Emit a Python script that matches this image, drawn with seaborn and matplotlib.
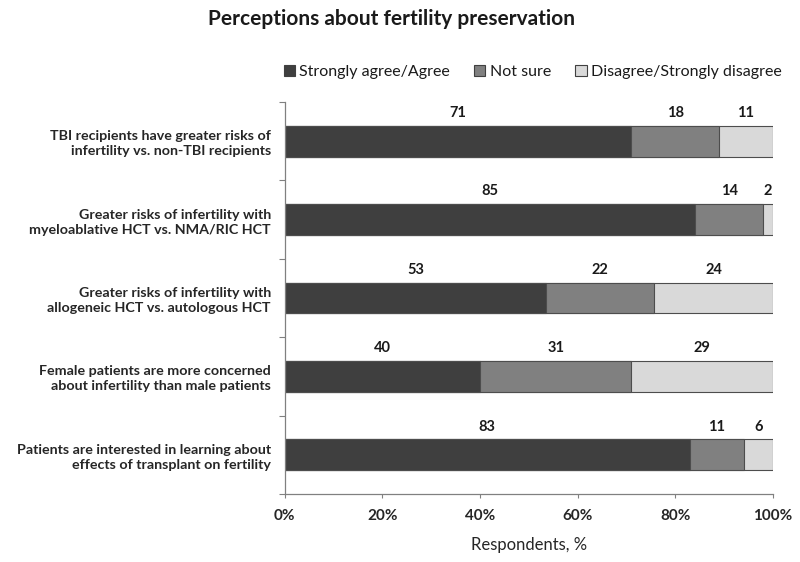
import numpy as np
import pandas as pd
import matplotlib.pyplot as plt
from matplotlib.patches import Patch
import seaborn as sns

# Survey items, top to bottom
statements = [
    'TBI recipients have greater risks of\ninfertility vs. non-TBI recipients',
    'Greater risks of infertility with\nmyeloablative HCT vs. NMA/RIC HCT',
    'Greater risks of infertility with\nallogeneic HCT vs. autologous HCT',
    'Female patients are more concerned\nabout infertility than male patients',
    'Patients are interested in learning about\neffects of transplant on fertility',
]
agree = [71, 85, 53, 40, 83]
not_sure = [18, 14, 22, 31, 11]
disagree = [11, 2, 24, 29, 6]

categories = ['Strongly agree/Agree', 'Not sure', 'Disagree/Strongly disagree']
colors = ['#3f3f3f', '#808080', '#d9d9d9']
x_ticks = [0, 20, 40, 60, 80, 100]

df = pd.DataFrame({'statement': statements,
                   categories[0]: agree,
                   categories[1]: not_sure,
                   categories[2]: disagree})

# rows don't always add to 100, bars are scaled to full width
shares = df[categories].div(df[categories].sum(axis=1), axis=0) * 100
cum = shares.cumsum(axis=1)

sns.set_style('white')
plt.rcParams['font.family'] = ['Lato', 'DejaVu Sans']
plt.rcParams['text.color'] = '#1a1a1a'

fig = plt.figure(figsize=(8, 5.62), dpi=100)
ax = fig.add_axes([0.356, 0.121, 0.61, 0.6975])

# stacked bars: draw cumulative totals from the longest to the shortest
for cat, color in reversed(list(zip(categories, colors))):
    sns.barplot(x=cum[cat], y=df['statement'], orient='h', color=color,
                saturation=1, width=0.395, edgecolor='#4d4d4d',
                linewidth=0.8, ax=ax)

# value labels above each segment
for i in range(len(df)):
    for cat in categories:
        mid = cum.loc[i, cat] - shares.loc[i, cat] / 2
        ax.text(mid, i - 0.36, str(df.loc[i, cat]), ha='center', va='center',
                fontsize=10.5, fontweight='bold')

ax.set_xlim(0, 100)
ax.set_ylim(4.5, -0.5)
ax.set_xticks(x_ticks)
ax.set_xticklabels([f'{v}%' for v in x_ticks], fontsize=11, fontweight='bold')
ax.set_yticks(np.arange(-0.5, 5, 1), minor=True)
for lab in ax.get_yticklabels():
    lab.set_fontsize(10.3)
    lab.set_fontweight('bold')
    lab.set_linespacing(1.3)

ax.tick_params(axis='y', which='major', length=0, pad=10)
ax.tick_params(axis='y', which='minor', left=True, length=4, width=0.8,
               color='#808080', direction='out')
ax.tick_params(axis='x', which='major', bottom=True, length=3, width=0.8,
               color='#808080', direction='out', pad=8)

ax.set_ylabel('')
ax.set_xlabel('Respondents, %', fontsize=12, labelpad=10)

sns.despine(ax=ax)
for side in ['left', 'bottom']:
    ax.spines[side].set_color('#808080')
    ax.spines[side].set_linewidth(0.9)

handles = [Patch(facecolor=c, edgecolor='#404040', linewidth=0.8) for c in colors]
fig.legend(handles, categories, loc='center', bbox_to_anchor=(0.666, 0.872),
           ncol=3, frameon=False, fontsize=11.5, handlelength=0.7,
           handleheight=0.7, handletextpad=0.3, columnspacing=1.5)

fig.text(0.49, 0.966, 'Perceptions about fertility preservation',
         ha='center', va='center', fontsize=15, fontweight='bold')

fig.savefig('out.png', dpi=100)
